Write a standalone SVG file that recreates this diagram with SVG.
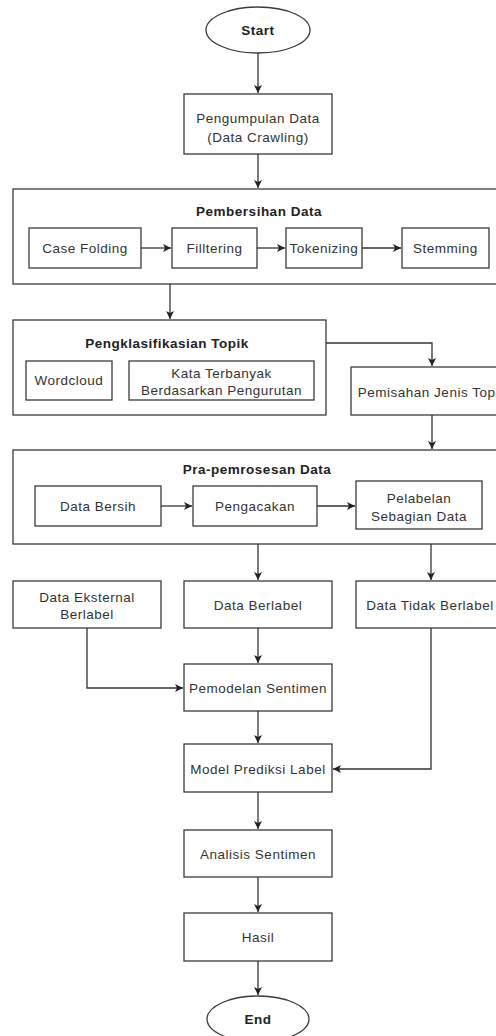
<svg xmlns="http://www.w3.org/2000/svg" width="496" height="1036" viewBox="0 0 496 1036">
<style>
  .bg { fill: #ffffff; }
  .box { fill: #ffffff; stroke: #3a3a3a; stroke-width: 1.3; }
  .t { font-family: "Liberation Sans", Arial, sans-serif; font-size: 13.5px; letter-spacing: 0.5px; fill: #333333; text-anchor: middle; }
  .b { font-weight: bold; fill: #222222; }
  .c { fill: none; stroke: #333333; stroke-width: 1.3; marker-end: url(#ah); }
</style>
<defs>
  <marker id="ah" markerWidth="10" markerHeight="10" refX="8" refY="4" orient="auto" markerUnits="userSpaceOnUse">
    <path d="M0,0 L8,4 L0,8 L2,4 Z" fill="#222222"/>
  </marker>
</defs>
<rect class="bg" x="0" y="0" width="496" height="1036"/>

<g id="start">
  <ellipse class="box" cx="258" cy="30" rx="52" ry="23"/>
  <text class="t b" x="258" y="35">Start</text>
</g>

<g id="pengumpulan">
  <rect class="box" x="184" y="94" width="148" height="60"/>
  <text class="t" x="258" y="123">Pengumpulan Data</text>
  <text class="t" x="258" y="142">(Data Crawling)</text>
</g>

<g id="pembersihan">
  <rect class="box" x="13" y="189" width="500" height="95"/>
  <text class="t b" x="259" y="216">Pembersihan Data</text>
</g>
<g id="casefolding">
  <rect class="box" x="29" y="228" width="112" height="40"/>
  <text class="t" x="85" y="253">Case Folding</text>
</g>
<g id="filltering">
  <rect class="box" x="172" y="228" width="85" height="40"/>
  <text class="t" x="214.5" y="253">Filltering</text>
</g>
<g id="tokenizing">
  <rect class="box" x="286" y="228" width="76" height="40"/>
  <text class="t" x="324" y="253">Tokenizing</text>
</g>
<g id="stemming">
  <rect class="box" x="402" y="228" width="87" height="40"/>
  <text class="t" x="445.5" y="253">Stemming</text>
</g>

<g id="pengklasifikasian">
  <rect class="box" x="13" y="320" width="313" height="95"/>
  <text class="t b" x="167" y="348">Pengklasifikasian Topik</text>
</g>
<g id="wordcloud">
  <rect class="box" x="26" y="361" width="86" height="39"/>
  <text class="t" x="69" y="385">Wordcloud</text>
</g>
<g id="kataterbanyak">
  <rect class="box" x="129" y="361" width="185" height="39"/>
  <text class="t" x="221.5" y="378">Kata Terbanyak</text>
  <text class="t" x="221.5" y="395">Berdasarkan Pengurutan</text>
</g>

<g id="pemisahan">
  <rect class="box" x="351" y="367" width="170" height="48"/>
  <text class="t" x="432" y="397">Pemisahan Jenis Topik</text>
</g>

<g id="prapemrosesan">
  <rect class="box" x="13" y="450" width="500" height="94"/>
  <text class="t b" x="257" y="474">Pra-pemrosesan Data</text>
</g>
<g id="databersih">
  <rect class="box" x="35" y="486" width="126" height="40"/>
  <text class="t" x="98" y="511">Data Bersih</text>
</g>
<g id="pengacakan">
  <rect class="box" x="193" y="486" width="124" height="40"/>
  <text class="t" x="255" y="511">Pengacakan</text>
</g>
<g id="pelabelan">
  <rect class="box" x="356" y="481" width="126" height="48"/>
  <text class="t" x="419" y="503">Pelabelan</text>
  <text class="t" x="419" y="521">Sebagian Data</text>
</g>

<g id="dataeksternal">
  <rect class="box" x="13" y="581" width="148" height="47"/>
  <text class="t" x="87" y="602">Data Eksternal</text>
  <text class="t" x="87" y="619">Berlabel</text>
</g>
<g id="databerlabel">
  <rect class="box" x="184" y="581" width="148" height="47"/>
  <text class="t" x="258" y="610">Data Berlabel</text>
</g>
<g id="datatidakberlabel">
  <rect class="box" x="356" y="581" width="160" height="47"/>
  <text class="t" x="430" y="610">Data Tidak Berlabel</text>
</g>

<g id="pemodelan">
  <rect class="box" x="184" y="664" width="148" height="47"/>
  <text class="t" x="258" y="693">Pemodelan Sentimen</text>
</g>
<g id="modelprediksi">
  <rect class="box" x="184" y="744" width="148" height="48"/>
  <text class="t" x="258" y="774">Model Prediksi Label</text>
</g>
<g id="analisis">
  <rect class="box" x="184" y="830" width="148" height="47"/>
  <text class="t" x="258" y="859">Analisis Sentimen</text>
</g>
<g id="hasil">
  <rect class="box" x="184" y="913" width="148" height="48"/>
  <text class="t" x="258" y="942">Hasil</text>
</g>
<g id="end">
  <ellipse class="box" cx="258" cy="1019" rx="51" ry="23"/>
  <text class="t b" x="258" y="1024">End</text>
</g>

<g id="connectors">
  <path class="c" d="M258,53 V93"/>
  <path class="c" d="M258,154 V188"/>
  <path class="c" d="M141,248 H171"/>
  <path class="c" d="M257,248 H285"/>
  <path class="c" d="M362,248 H401"/>
  <path class="c" d="M170,284 V319"/>
  <path class="c" d="M326,343 H432 V366"/>
  <path class="c" d="M432,415 V449"/>
  <path class="c" d="M161,506 H192"/>
  <path class="c" d="M317,506 H355"/>
  <path class="c" d="M258,544 V580"/>
  <path class="c" d="M431,544 V580"/>
  <path class="c" d="M258,628 V663"/>
  <path class="c" d="M87,628 V688 H183"/>
  <path class="c" d="M258,711 V743"/>
  <path class="c" d="M431,628 V769 H333"/>
  <path class="c" d="M258,792 V829"/>
  <path class="c" d="M258,877 V912"/>
  <path class="c" d="M258,961 V995"/>
</g>
</svg>
